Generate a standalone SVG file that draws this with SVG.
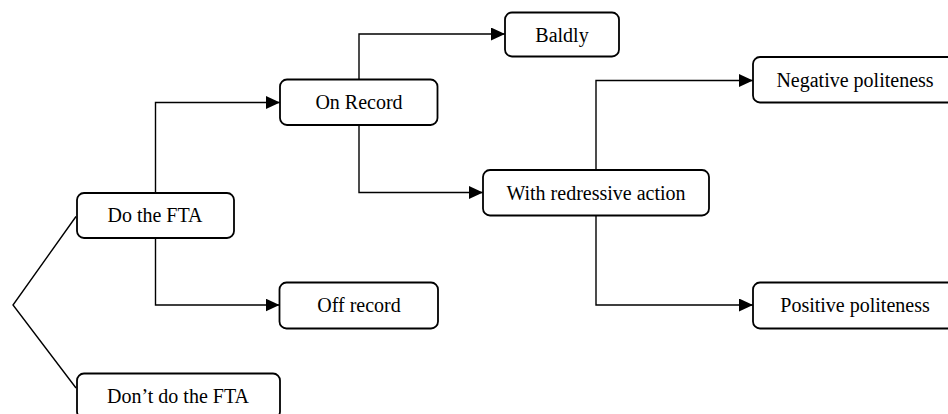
<svg xmlns="http://www.w3.org/2000/svg" width="948" height="414" viewBox="0 0 948 414">
<style>
.box{fill:#fff;stroke:#000;stroke-width:1.8}
.lbl{font-family:"Liberation Serif","Times New Roman",serif;font-size:20px;fill:#000;text-anchor:middle}
.ln{fill:none;stroke:#000;stroke-width:1.4}
</style>
<defs>
<marker id="ah" viewBox="0 0 14 13" refX="14" refY="6.5" markerWidth="14" markerHeight="13" markerUnits="userSpaceOnUse" orient="auto">
<path d="M0,0 L14,6.5 L0,13 Z" fill="#000"/>
</marker>
</defs>
<rect width="948" height="414" fill="#fff"/>
<g id="connectors">
<path class="ln" d="M76,216.5 L13,305 L76,388"/>
<path class="ln" marker-end="url(#ah)" d="M155.5,193 V102.5 H280"/>
<path class="ln" marker-end="url(#ah)" d="M155.5,238 V305 H279.5"/>
<path class="ln" marker-end="url(#ah)" d="M359,79.5 V34 H505"/>
<path class="ln" marker-end="url(#ah)" d="M359,125 V192.5 H483"/>
<path class="ln" marker-end="url(#ah)" d="M596,170 V80.5 H753"/>
<path class="ln" marker-end="url(#ah)" d="M596,215.5 V305 H753"/>
</g>
<g id="do-fta"><rect class="box" x="77" y="193" width="157" height="45" rx="7"/><text class="lbl" x="155" y="222">Do the FTA</text></g>
<g id="dont-fta"><rect class="box" x="77" y="373.5" width="203" height="45" rx="7"/><text class="lbl" x="178" y="402.5">Don’t do the FTA</text></g>
<g id="on-record"><rect class="box" x="280" y="79.5" width="157.5" height="45.5" rx="7"/><text class="lbl" x="359" y="109">On Record</text></g>
<g id="off-record"><rect class="box" x="279.5" y="282.5" width="158.5" height="46" rx="7"/><text class="lbl" x="359" y="312">Off record</text></g>
<g id="baldly"><rect class="box" x="505" y="12.5" width="114" height="44" rx="7"/><text class="lbl" x="562" y="41.5">Baldly</text></g>
<g id="redressive"><rect class="box" x="483" y="170" width="226" height="45.5" rx="7"/><text class="lbl" x="596" y="199.5">With redressive action</text></g>
<g id="negative"><rect class="box" x="753" y="57" width="205" height="45.5" rx="7"/><text class="lbl" x="855" y="87">Negative politeness</text></g>
<g id="positive"><rect class="box" x="753" y="282.5" width="205" height="46" rx="7"/><text class="lbl" x="855" y="312">Positive politeness</text></g>
</svg>
